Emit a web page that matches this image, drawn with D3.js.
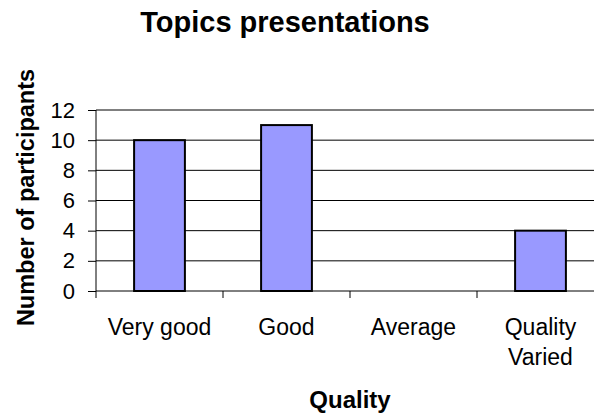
<!DOCTYPE html>
<html>
<head>
<meta charset="utf-8">
<script src="https://cdn.jsdelivr.net/npm/d3@7"></script>
<style>
  body { margin: 0; background: #fff; }
  text { font-family: "Liberation Sans", Arial, sans-serif; fill: #000; }
</style>
</head>
<body>
<div id="chart"></div>
<script>
// data
const categories = ["Very good", "Good", "Average", "Quality Varied"];
const tickLabels = [["Very good"], ["Good"], ["Average"], ["Quality", "Varied"]];
const participants = [10, 11, 0, 4];
const yTicks = [0, 2, 4, 6, 8, 10, 12];

const width = 594, height = 414;
const margin = { top: 110, right: -10, bottom: 123, left: 96 };

const svg = d3.select("#chart").append("svg")
  .attr("width", width)
  .attr("height", height);

const x = d3.scaleBand()
  .domain(categories)
  .range([margin.left, width - margin.right]);

const xBar = d3.scaleBand()
  .domain(categories)
  .range([margin.left, width - margin.right])
  .paddingInner(0.6)
  .paddingOuter(0.3);

const y = d3.scaleLinear()
  .domain([0, 12])
  .range([height - margin.bottom, margin.top]);

// gridlines
svg.append("g")
  .selectAll("line")
  .data(yTicks.filter(d => d > 0))
  .join("line")
  .attr("x1", margin.left)
  .attr("x2", width - margin.right)
  .attr("y1", d => y(d))
  .attr("y2", d => y(d))
  .attr("stroke", "#000")
  .attr("stroke-width", 1);

// y axis
const yAxis = svg.append("g")
  .attr("transform", `translate(${margin.left},0)`)
  .call(d3.axisLeft(y).tickValues(yTicks).tickSize(8).tickPadding(13).tickSizeOuter(0));
yAxis.select(".domain").remove();
yAxis.selectAll(".tick line").attr("stroke", "#000");
yAxis.selectAll(".tick text")
  .style("font-size", "22px")
  .style("font-family", "Liberation Sans, Arial, sans-serif");

svg.append("line")
  .attr("x1", margin.left).attr("x2", margin.left)
  .attr("y1", y(12)).attr("y2", y(0) + 7)
  .attr("stroke", "#000");

// bars
svg.append("g")
  .selectAll("rect")
  .data(categories.map((c, i) => ({ c, v: participants[i] })).filter(d => d.v > 0))
  .join("rect")
  .attr("x", d => xBar(d.c))
  .attr("width", xBar.bandwidth())
  .attr("y", d => y(d.v))
  .attr("height", d => y(0) - y(d.v))
  .attr("fill", "#9999ff")
  .attr("stroke", "#000")
  .attr("stroke-width", 2);

// x axis line + ticks at band edges
svg.append("line")
  .attr("x1", margin.left).attr("x2", width - margin.right)
  .attr("y1", y(0)).attr("y2", y(0))
  .attr("stroke", "#000");

svg.append("g")
  .selectAll("line")
  .data(categories.slice(1))
  .join("line")
  .attr("x1", d => x(d)).attr("x2", d => x(d))
  .attr("y1", y(0)).attr("y2", y(0) + 7)
  .attr("stroke", "#000");

// category labels
const labels = svg.append("g")
  .selectAll("text")
  .data(categories)
  .join("text")
  .attr("text-anchor", "middle")
  .style("font-size", "23px");

labels.selectAll("tspan")
  .data((d, i) => tickLabels[i].map(t => ({ t, c: d })))
  .join("tspan")
  .attr("x", d => x(d.c) + x.bandwidth() / 2)
  .attr("y", (d, j) => 335 + j * 30)
  .text(d => d.t);

// titles
svg.append("text")
  .attr("x", 285)
  .attr("y", 32)
  .attr("text-anchor", "middle")
  .style("font-size", "29px")
  .style("font-weight", "bold")
  .text("Topics presentations");

svg.append("text")
  .attr("x", (margin.left + width - margin.right) / 2)
  .attr("y", 408)
  .attr("text-anchor", "middle")
  .style("font-size", "24px")
  .style("font-weight", "bold")
  .text("Quality");

svg.append("text")
  .attr("transform", `translate(34,${(y(0) + y(12)) / 2 - 3}) rotate(-90)`)
  .attr("text-anchor", "middle")
  .style("font-size", "23.5px")
  .style("font-weight", "bold")
  .text("Number of participants");
</script>
</body>
</html>
